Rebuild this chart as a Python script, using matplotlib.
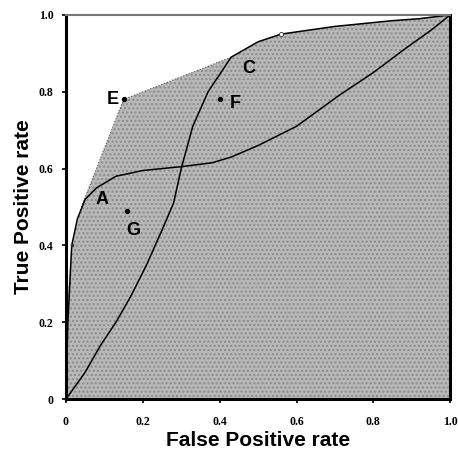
import matplotlib.pyplot as plt

# ==========================================
# DATA
# ==========================================

# convex hull of the classifiers (shaded area)
hull_fpr = [0, 0, 0.015, 0.04, 0.15, 0.43, 0.5, 0.56, 0.7, 0.85, 1, 1]
hull_tpr = [0, 0.2, 0.4, 0.5, 0.78, 0.89, 0.93, 0.95, 0.97, 0.985, 1, 0]

# curve A (steep start, then plateau)
a_fpr = [0, 0.005, 0.015, 0.03, 0.05, 0.08, 0.13, 0.2, 0.3, 0.38, 0.43,
         0.5, 0.6, 0.71, 0.8, 0.88, 0.95, 1]
a_tpr = [0, 0.2, 0.4, 0.47, 0.52, 0.55, 0.58, 0.595, 0.605, 0.615, 0.63,
         0.66, 0.71, 0.79, 0.85, 0.91, 0.96, 1]

# curve C (S-shaped)
c_fpr = [0, 0.05, 0.09, 0.13, 0.17, 0.21, 0.25, 0.28, 0.3, 0.33, 0.37,
         0.43, 0.5, 0.56, 0.7, 0.85, 0.92, 1]
c_tpr = [0, 0.07, 0.14, 0.2, 0.27, 0.35, 0.44, 0.51, 0.6, 0.71, 0.8,
         0.89, 0.93, 0.95, 0.97, 0.985, 0.99, 1]

# single classifiers
pt_names = ["E", "F", "G"]
pt_fpr = [0.15, 0.40, 0.16]
pt_tpr = [0.78, 0.78, 0.49]

# curve labels
lab_names = ["A", "C"]
lab_x = [0.095, 0.475]
lab_y = [0.52, 0.86]

x_ticks = [0, 0.2, 0.4, 0.6, 0.8, 1.0]
x_tick_labels = ["0", "0.2", "0.4", "0.6", "0.8", "1.0"]
y_ticks = [0, 0.2, 0.4, 0.6, 0.8, 1.0]
y_tick_labels = ["0", "0.2", "0.4", "0.6", "0.8", "1.0"]

# ==========================================
# PLOT
# ==========================================

fig = plt.figure(figsize=(4.58, 4.51), dpi=100)
ax = fig.add_axes([0.144, 0.115, 0.839, 0.852])

ax.fill(hull_fpr, hull_tpr, facecolor="#b8b8b8", edgecolor="#8a8a8a",
        hatch="....", linewidth=0)
ax.plot(hull_fpr[3:6], hull_tpr[3:6], color="#555555", lw=0.8, ls=":")

ax.plot(a_fpr, a_tpr, color="black", lw=1.1)
ax.plot(c_fpr, c_tpr, color="black", lw=1.1)
ax.plot([0.56], [0.95], marker="o", ms=3, mfc="white", mec="#333333", mew=0.6)
ax.plot([0.015], [0.4], marker="s", ms=2, color="#333333")

ax.scatter(pt_fpr, pt_tpr, s=8, color="black", zorder=5)
ax.text(pt_fpr[0] - 0.012, pt_tpr[0], pt_names[0], ha="right", va="center",
        fontsize=13, fontweight="bold", family="Liberation Sans")
ax.text(pt_fpr[1] + 0.025, pt_tpr[1] - 0.01, pt_names[1], ha="left", va="center",
        fontsize=13, fontweight="bold", family="Liberation Sans")
ax.text(pt_fpr[2] + 0.014, pt_tpr[2] - 0.05, pt_names[2], ha="center", va="center",
        fontsize=13, fontweight="bold", family="Liberation Sans")
for name, x, y in zip(lab_names, lab_x, lab_y):
    ax.text(x, y, name, ha="center", va="center", fontsize=13,
            fontweight="bold", family="Liberation Sans")

ax.set_xlim(0, 1)
ax.set_ylim(0, 1)
ax.set_xticks(x_ticks)
ax.set_xticklabels(x_tick_labels, family="Liberation Serif", fontsize=8.5,
                   fontweight="bold")
ax.set_yticks(y_ticks)
ax.set_yticklabels(y_tick_labels, family="Liberation Serif", fontsize=8.5,
                   fontweight="bold")
ax.tick_params(direction="out", length=3, width=1.2)
ax.tick_params(axis="x", pad=9)
ax.tick_params(axis="y", pad=6)

ax.set_xlabel("False Positive rate", family="Liberation Sans", fontsize=15,
              fontweight="bold", labelpad=2)
ax.set_ylabel("True Positive rate", family="Liberation Sans", fontsize=15,
              fontweight="bold", labelpad=4)

for side in ["left", "bottom", "right"]:
    ax.spines[side].set_linewidth(2.2)
ax.spines["top"].set_linewidth(1.5)
ax.spines["top"].set_color("#777777")

plt.savefig("out.png", dpi=100)
plt.close()
